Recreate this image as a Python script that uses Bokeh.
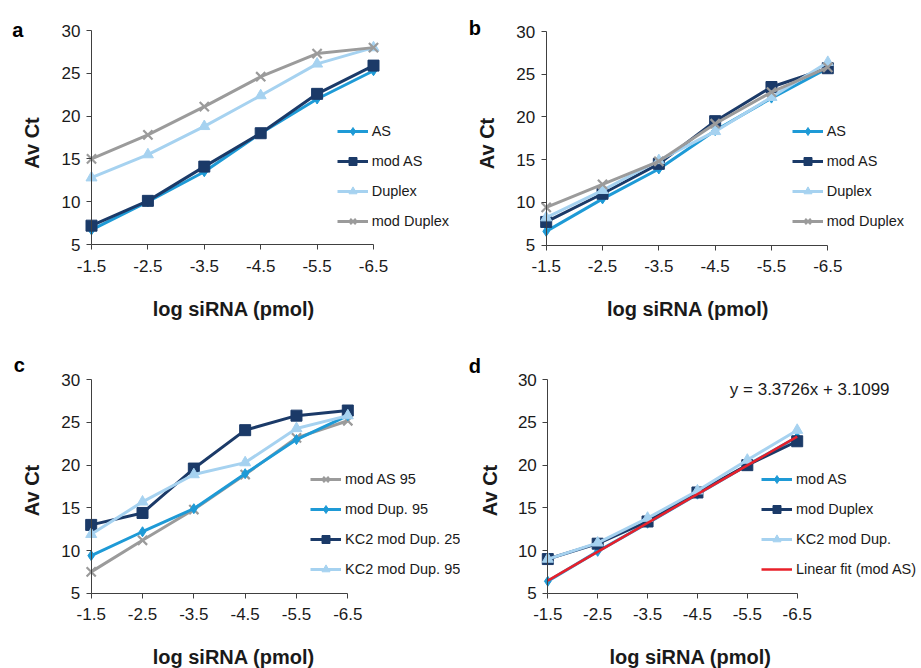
import math
from bokeh.plotting import figure
from bokeh.models import Range1d, FixedTicker, Legend, LegendItem, Label
from bokeh.layouts import gridplot
from bokeh.embed import file_html
from bokeh.resources import INLINE

# ---------------- data ----------------
x_labels = ["-1.5", "-2.5", "-3.5", "-4.5", "-5.5", "-6.5"]
y_ticks = [5, 10, 15, 20, 25, 30]

# panel a
a_as = [6.7, 10.0, 13.5, 18.0, 22.0, 25.3]
a_mod_as = [7.2, 10.1, 14.1, 18.0, 22.6, 25.9]
a_duplex = [12.8, 15.5, 18.8, 22.4, 26.1, 28.0]
a_mod_duplex = [15.0, 17.8, 21.1, 24.6, 27.3, 28.0]

# panel b
b_as = [6.6, 10.4, 13.9, 18.4, 22.2, 25.7]
b_mod_as = [7.7, 11.0, 14.5, 19.5, 23.5, 25.7]
b_duplex = [8.2, 11.4, 14.9, 18.3, 22.3, 26.4]
b_mod_duplex = [9.4, 12.1, 14.8, 19.2, 22.9, 25.8]

# panel c
c_mod_as95 = [7.5, 11.2, 14.8, 18.9, 23.2, 25.2]
c_mod_dup95 = [9.4, 12.2, 14.9, 19.0, 23.0, 25.8]
c_kc2_dup25 = [13.0, 14.4, 19.6, 24.1, 25.8, 26.4]
c_kc2_dup95 = [11.9, 15.7, 18.9, 20.3, 24.3, 25.8]

# panel d
d_mod_as = [6.4, 9.9, 13.2, 16.6, 20.0, 23.3]
d_mod_duplex = [9.0, 10.8, 13.4, 16.8, 20.0, 22.8]
d_kc2_dup = [9.0, 10.9, 13.8, 17.0, 20.6, 24.1]
d_fit_cats = ["-1.5", "-6.5"]
d_fit_y = [6.48, 23.35]
d_equation = "y = 3.3726x + 3.1099"

x_title = "log siRNA (pmol)"
y_title = "Av Ct"

# ---------------- style ----------------
FONT = "Liberation Sans"
TXT = "#1a1a1a"
AXC = "#404040"
BLUE = "#1E9AD6"
NAVY = "#1B3A68"
LIGHT = "#A6D2F0"
GRAY = "#9B9B9B"
RED = "#E8202A"

MARKERS = {
    "diamond": dict(marker="diamond", size=10, line_width=1),
    "square": dict(marker="square", size=11, line_width=1),
    "triangle": dict(marker="triangle", size=11, line_width=1),
    "x": dict(marker="x", size=13, line_width=2.2),
}

xi = {lab: i for i, lab in enumerate(x_labels)}
x_idx = [xi[l] for l in x_labels]


def make_panel(letter, fig_x, fig_y, fig_w, fig_h, cat0, cat5, ytop, ybot,
               series, leg_x, leg_y0, let_x, let_base, ytitle_xy, xtitle_xy,
               fit=None, eq=None):
    unit = (cat5 - cat0) / 5.0
    vunit = (ybot - ytop) / 25.0
    # the frame covers the whole figure; axes are pinned at fixed locations
    xs = (fig_x - cat0) / unit
    xe = (fig_x + fig_w - cat0) / unit
    y_hi = 30 + (ytop - fig_y) / vunit
    y_lo = 5 - (fig_y + fig_h - ybot) / vunit
    p = figure(width=fig_w, height=fig_h, output_backend="svg",
               toolbar_location=None,
               x_range=Range1d(xs, xe), y_range=Range1d(y_lo, y_hi),
               min_border_left=0, min_border_right=0,
               min_border_top=0, min_border_bottom=0)
    p.outline_line_color = None
    p.grid.visible = False
    p.background_fill_color = "white"
    p.border_fill_color = "white"

    for ax in (p.xaxis[0], p.yaxis[0]):
        ax.axis_line_color = AXC
        ax.axis_line_width = 1
        ax.major_tick_line_color = AXC
        ax.major_tick_in = 0
        ax.major_tick_out = 5
        ax.minor_tick_line_color = None
        ax.major_label_text_font = FONT
        ax.major_label_text_font_size = "17px"
        ax.major_label_text_color = TXT

    xa = p.xaxis[0]
    xa.fixed_location = y_ticks[0]
    xa.ticker = FixedTicker(ticks=x_idx)
    xa.major_label_overrides = {i: lab for i, lab in enumerate(x_labels)}
    xa.bounds = (x_idx[0], x_idx[-1])
    xa.major_label_standoff = 10

    ya = p.yaxis[0]
    ya.fixed_location = x_idx[0]
    ya.ticker = FixedTicker(ticks=y_ticks)
    ya.bounds = (y_ticks[0], y_ticks[-1])
    ya.major_label_standoff = 6

    items = []
    for label, vals, color, mk in series:
        lr = p.line(x_idx, vals, line_color=color, line_width=3)
        sr = p.scatter(x_idx, vals, fill_color=color, line_color=color,
                       **MARKERS[mk])
        items.append(LegendItem(label=label, renderers=[lr, sr]))
    if fit is not None:
        label, cats, vals, color = fit
        fr = p.line([xi[c] for c in cats], vals, line_color=color, line_width=2.5)
        items.append(LegendItem(label=label, renderers=[fr]))

    fb = fig_y + fig_h  # frame bottom in page pixels
    n = len(items)
    gh, sp = 20, 10.3
    leg_h = n * gh + (n - 1) * sp
    leg_top = leg_y0 - gh / 2
    legend = Legend(items=items,
                    location=(leg_x - fig_x, fb - (leg_top + leg_h)),
                    orientation="vertical", padding=0, margin=0, spacing=10,
                    glyph_width=31, glyph_height=gh, label_height=gh,
                    label_standoff=4, border_line_color=None,
                    background_fill_alpha=0,
                    label_text_font=FONT, label_text_font_size="14.5px",
                    label_text_color=TXT)
    p.add_layout(legend)

    # panel letter
    p.add_layout(Label(x=let_x - fig_x, y=fb - let_base,
                       x_units="screen", y_units="screen", text=letter,
                       text_baseline="alphabetic",
                       text_font=FONT, text_font_size="20px",
                       text_font_style="bold", text_color="black"))
    # axis titles
    tx, ty = ytitle_xy
    p.add_layout(Label(x=tx - fig_x, y=fb - ty,
                       x_units="screen", y_units="screen", text=y_title,
                       angle=math.pi / 2, text_align="center",
                       text_baseline="middle",
                       text_font=FONT, text_font_size="20px",
                       text_font_style="bold", text_color=TXT))
    hx, hy = xtitle_xy
    p.add_layout(Label(x=hx - fig_x, y=fb - hy,
                       x_units="screen", y_units="screen", text=x_title,
                       text_align="center", text_baseline="middle",
                       text_font=FONT, text_font_size="20px",
                       text_font_style="bold", text_color=TXT))
    if eq is not None:
        ex, ey, etext = eq
        p.add_layout(Label(x=ex - fig_x, y=fb - ey,
                           x_units="screen", y_units="screen", text=etext,
                           text_baseline="alphabetic",
                           text_font=FONT, text_font_size="17px",
                           text_color=TXT))
    return p


pa = make_panel("a", 0, 0, 460, 330, 91, 373, 30, 244,
                [("AS", a_as, BLUE, "diamond"),
                 ("mod AS", a_mod_as, NAVY, "square"),
                 ("Duplex", a_duplex, LIGHT, "triangle"),
                 ("mod Duplex", a_mod_duplex, GRAY, "x")],
                336.7, 130, 11.7, 29, (31.7, 142.5), (233.3, 308.5))

pb = make_panel("b", 460, 0, 461, 330, 545.7, 827.3, 31, 244.5,
                [("AS", b_as, BLUE, "diamond"),
                 ("mod AS", b_mod_as, NAVY, "square"),
                 ("Duplex", b_duplex, LIGHT, "triangle"),
                 ("mod Duplex", b_mod_duplex, GRAY, "x")],
                791.7, 130, 468.3, 27, (486.5, 143), (687.5, 308.5))

pc = make_panel("c", 0, 330, 460, 338, 90.7, 347.3, 379.3, 592.7,
                [("mod AS 95", c_mod_as95, GRAY, "x"),
                 ("mod Dup. 95", c_mod_dup95, BLUE, "diamond"),
                 ("KC2 mod Dup. 25", c_kc2_dup25, NAVY, "square"),
                 ("KC2 mod Dup. 95", c_kc2_dup95, LIGHT, "triangle")],
                310, 478.3, 13.3, 364, (31.7, 490), (233.3, 656))

pd_ = make_panel("d", 460, 330, 461, 338, 547.3, 796.7, 379.3, 592.7,
                 [("mod AS", d_mod_as, BLUE, "diamond"),
                  ("mod Duplex", d_mod_duplex, NAVY, "square"),
                  ("KC2 mod Dup.", d_kc2_dup, LIGHT, "triangle")],
                 761, 477.7, 468.3, 365, (489, 490), (690, 656),
                 fit=("Linear fit (mod AS)", d_fit_cats, d_fit_y, RED),
                 eq=(729.3, 389, d_equation))

grid = gridplot([[pa, pb], [pc, pd_]], toolbar_location=None)

with open("out.html", "w") as f:
    f.write(file_html(grid, INLINE))
